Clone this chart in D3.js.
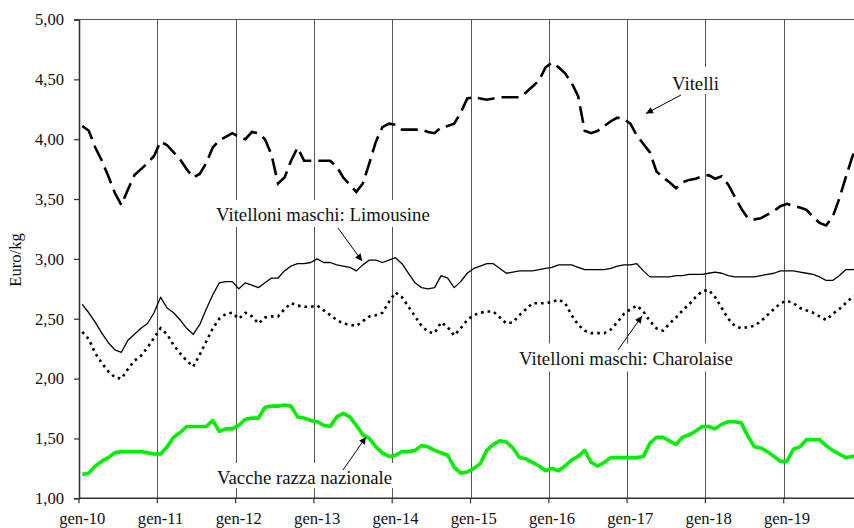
<!DOCTYPE html>
<html>
<head>
<meta charset="utf-8">
<script src="https://cdn.jsdelivr.net/npm/d3@7"></script>
<style>
html,body{margin:0;padding:0;background:#fff;}
svg{display:block;}
</style>
</head>
<body>
<svg id="chart" width="854" height="528"></svg>
<script>
// ---- DATA ----
const monthNames = ["gen","feb","mar","apr","mag","giu","lug","ago","set","ott","nov","dic"];
const years = ["10","11","12","13","14","15","16","17","18","19"];
const tickLabels = ["gen-10","gen-11","gen-12","gen-13","gen-14","gen-15","gen-16","gen-17","gen-18","gen-19"];
const yTicks = [1.00,1.50,2.00,2.50,3.00,3.50,4.00,4.50,5.00];

const vitelli = [
4.11,4.07,3.93,3.82,3.69,3.55,3.45,3.58,3.70,3.75,3.80,3.86,
3.98,3.95,3.89,3.83,3.75,3.68,3.71,3.80,3.93,3.99,4.02,4.05,
4.02,4.00,4.06,4.05,4.00,3.87,3.63,3.68,3.82,3.93,3.82,3.82,
3.82,3.82,3.82,3.77,3.68,3.62,3.56,3.63,3.80,3.98,4.10,4.13,
4.12,4.08,4.08,4.08,4.08,4.06,4.05,4.10,4.11,4.13,4.22,4.34,
4.35,4.34,4.33,4.34,4.35,4.35,4.35,4.35,4.39,4.44,4.49,4.60,
4.64,4.60,4.55,4.47,4.36,4.07,4.05,4.07,4.11,4.15,4.18,4.17,
4.13,4.03,3.96,3.89,3.73,3.68,3.64,3.59,3.64,3.66,3.67,3.69,
3.70,3.67,3.69,3.62,3.52,3.42,3.34,3.33,3.34,3.37,3.40,3.44,
3.46,3.44,3.43,3.41,3.35,3.30,3.28,3.35,3.50,3.68,3.85,3.98];

const limousine = [
2.62,2.55,2.47,2.38,2.30,2.24,2.22,2.32,2.37,2.42,2.46,2.55,
2.68,2.59,2.55,2.49,2.42,2.37,2.45,2.58,2.70,2.80,2.81,2.81,
2.75,2.80,2.78,2.76,2.80,2.84,2.84,2.90,2.94,2.96,2.96,2.97,
3.00,2.97,2.97,2.95,2.94,2.93,2.90,2.95,2.99,2.99,2.97,2.99,
3.01,2.96,2.88,2.80,2.76,2.75,2.76,2.86,2.84,2.76,2.81,2.88,
2.92,2.94,2.96,2.96,2.92,2.88,2.89,2.90,2.90,2.90,2.91,2.92,
2.93,2.95,2.95,2.95,2.93,2.91,2.91,2.91,2.91,2.92,2.94,2.95,
2.95,2.96,2.90,2.85,2.85,2.85,2.85,2.86,2.86,2.87,2.87,2.87,
2.88,2.89,2.88,2.86,2.85,2.85,2.85,2.85,2.86,2.87,2.88,2.90,
2.90,2.90,2.89,2.88,2.87,2.85,2.82,2.82,2.86,2.91,2.91,2.92];

const charolaise = [
2.39,2.33,2.21,2.13,2.06,2.01,2.00,2.08,2.15,2.19,2.26,2.34,
2.42,2.37,2.28,2.21,2.15,2.10,2.20,2.31,2.42,2.50,2.54,2.55,
2.50,2.55,2.52,2.46,2.51,2.52,2.52,2.58,2.63,2.61,2.60,2.60,
2.61,2.57,2.53,2.49,2.46,2.45,2.44,2.48,2.52,2.53,2.55,2.64,
2.72,2.68,2.60,2.52,2.44,2.39,2.38,2.47,2.43,2.36,2.42,2.49,
2.53,2.55,2.56,2.56,2.51,2.46,2.47,2.53,2.58,2.63,2.63,2.63,
2.64,2.66,2.63,2.53,2.45,2.40,2.38,2.38,2.38,2.41,2.47,2.54,
2.58,2.61,2.56,2.48,2.42,2.40,2.46,2.51,2.57,2.62,2.68,2.73,
2.74,2.68,2.59,2.50,2.44,2.42,2.43,2.44,2.48,2.53,2.58,2.63,
2.65,2.63,2.59,2.57,2.55,2.52,2.49,2.54,2.58,2.63,2.68,2.70];

const vacche = [
1.20,1.21,1.27,1.31,1.34,1.38,1.39,1.39,1.39,1.39,1.38,1.37,
1.37,1.43,1.51,1.55,1.60,1.60,1.60,1.60,1.65,1.56,1.58,1.58,
1.61,1.66,1.67,1.67,1.76,1.77,1.77,1.78,1.77,1.68,1.67,1.65,
1.64,1.61,1.60,1.68,1.71,1.68,1.61,1.53,1.50,1.43,1.38,1.35,
1.36,1.39,1.39,1.40,1.44,1.43,1.40,1.38,1.36,1.26,1.21,1.22,
1.25,1.29,1.40,1.45,1.48,1.47,1.42,1.34,1.33,1.30,1.27,1.23,
1.25,1.23,1.27,1.32,1.35,1.40,1.30,1.27,1.30,1.34,1.34,1.34,
1.34,1.34,1.35,1.46,1.51,1.51,1.48,1.45,1.51,1.53,1.56,1.60,
1.60,1.58,1.62,1.64,1.64,1.63,1.52,1.43,1.42,1.39,1.35,1.31,
1.31,1.41,1.43,1.49,1.49,1.49,1.44,1.40,1.37,1.34,1.35,1.35];

// ---- CHART ----
(function () {
const categories = [];
years.forEach(yy => monthNames.forEach(m => categories.push(m + "-" + yy)));

const svg = d3.select("#chart");
const pL = 79, pT = 19.5, pB = 498.3, step = 6.525;
const pR = pL + step * categories.length;

const x = d3.scaleBand().domain(categories).range([pL, pR]).padding(0);
const y = d3.scaleLinear().domain([1, 5]).range([pB, pT]);
const cx = c => x(c) + x.bandwidth() / 2;
const fmt = v => d3.format(".2f")(v).replace(".", ",");
const font = "'Liberation Serif','Times New Roman',serif";

// gridlines at each January
svg.append("g").selectAll("line").data(tickLabels.slice(1)).join("line")
  .attr("x1", d => Math.round(x(d)) + 0.5).attr("x2", d => Math.round(x(d)) + 0.5)
  .attr("y1", pT).attr("y2", pB)
  .attr("stroke", "#555").attr("stroke-width", 1);

// top border
svg.append("line").attr("x1", pL).attr("x2", 854).attr("y1", pT).attr("y2", pT)
  .attr("stroke", "#555").attr("stroke-width", 1.2);

const line = d3.line().x((d, i) => cx(categories[i])).y(d => y(d));

// annotation boxes (white) behind labels
const annotations = [
  {text: "Vitelli", x: 672, y: 89.5, box: [668, 67, 60, 27]},
  {text: "Vitelloni maschi: Limousine", x: 216, y: 220.5, box: [212, 200, 226, 27]},
  {text: "Vitelloni maschi: Charolaise", x: 519, y: 365, box: [515, 343.5, 226, 28]},
  {text: "Vacche razza nazionale", x: 217, y: 484, box: [213, 463, 188, 25]}
];
svg.append("g").selectAll("rect").data(annotations).join("rect")
  .attr("x", d => d.box[0]).attr("y", d => d.box[1])
  .attr("width", d => d.box[2]).attr("height", d => d.box[3])
  .attr("fill", "#fff");

// series
svg.append("path").datum(vacche).attr("d", line)
  .attr("fill", "none").attr("stroke", "#00ee00").attr("stroke-width", 3.6)
  .attr("stroke-linejoin", "round");
svg.append("path").datum(charolaise).attr("d", line)
  .attr("fill", "none").attr("stroke", "#000").attr("stroke-width", 2.6)
  .attr("stroke-dasharray", "2.6,4");
svg.append("path").datum(limousine).attr("d", line)
  .attr("fill", "none").attr("stroke", "#000").attr("stroke-width", 1.3)
  .attr("stroke-linejoin", "round");
svg.append("path").datum(vitelli).attr("d", line)
  .attr("fill", "none").attr("stroke", "#000").attr("stroke-width", 2.6)
  .attr("stroke-dasharray", "17,7");

// annotation text
svg.append("g").selectAll("text").data(annotations).join("text")
  .attr("x", d => d.x).attr("y", d => d.y)
  .attr("font-family", font).attr("font-size", 18.8).attr("fill", "#111")
  .text(d => d.text);

// arrows
svg.append("defs").append("marker").attr("id", "ah")
  .attr("viewBox", "0 0 10 10").attr("refX", 10).attr("refY", 5)
  .attr("markerWidth", 9).attr("markerHeight", 7).attr("markerUnits", "userSpaceOnUse")
  .attr("orient", "auto")
  .append("path").attr("d", "M0,0 L10,5 L0,10 Z").attr("fill", "#000");
const arrows = [
  [681, 95, 646, 113.5],
  [338, 228, 362, 261],
  [618, 350, 642, 316],
  [343, 470, 366, 437]
];
svg.append("g").selectAll("line").data(arrows).join("line")
  .attr("x1", d => d[0]).attr("y1", d => d[1]).attr("x2", d => d[2]).attr("y2", d => d[3])
  .attr("stroke", "#000").attr("stroke-width", 1).attr("marker-end", "url(#ah)");

// y axis
const yAxis = svg.append("g").attr("transform", `translate(${pL},0)`)
  .call(d3.axisLeft(y).tickValues(yTicks).tickFormat(fmt).tickSize(5).tickPadding(10));
yAxis.select(".domain").attr("stroke", "#333").attr("stroke-width", 1.6);
yAxis.selectAll(".tick line").attr("stroke", "#333").attr("stroke-width", 1.2);
yAxis.selectAll("text").attr("font-family", font).attr("font-size", 16.6).attr("fill", "#111");

// x axis
const xAxis = svg.append("g").attr("transform", `translate(0,${pB})`);
xAxis.append("line").attr("x1", pL).attr("x2", 854).attr("y1", 0).attr("y2", 0)
  .attr("stroke", "#333").attr("stroke-width", 1.6);
xAxis.selectAll("line.tk").data(tickLabels).join("line").attr("class", "tk")
  .attr("x1", d => x(d)).attr("x2", d => x(d)).attr("y1", 0).attr("y2", 5)
  .attr("stroke", "#333").attr("stroke-width", 1.2);
xAxis.selectAll("text").data(tickLabels).join("text")
  .attr("x", d => cx(d)).attr("y", 25.5).attr("text-anchor", "middle")
  .attr("font-family", font).attr("font-size", 16.6).attr("fill", "#111")
  .text(d => d);

// y title
svg.append("text").attr("transform", `translate(21,260) rotate(-90)`)
  .attr("text-anchor", "middle").attr("font-family", font).attr("font-size", 16.6)
  .attr("fill", "#111").text("Euro/kg");
})();
</script>
</body>
</html>
